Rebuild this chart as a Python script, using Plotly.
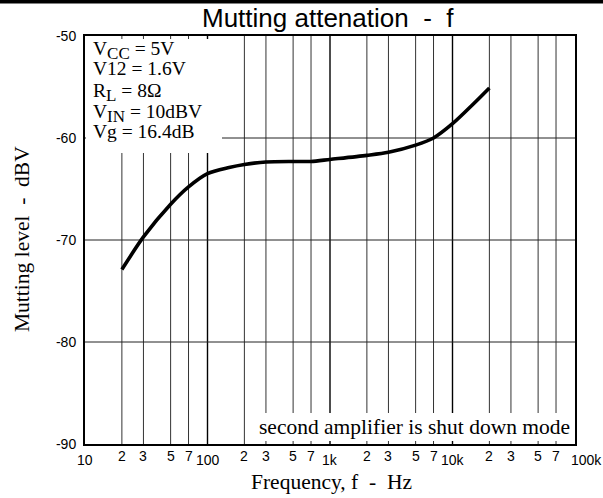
import math
import plotly.graph_objects as go

# ---- data ----
freq_hz = [20, 30, 50, 70, 100, 150, 200, 300, 500, 700, 1000, 2000, 3000, 5000, 7000, 10000, 15000, 20000]
level_dbv = [-72.9, -69.7, -66.5, -64.8, -63.5, -62.9, -62.6, -62.35, -62.3, -62.3, -62.1, -61.7, -61.4, -60.7, -60.0, -58.6, -56.6, -55.1]

y_tick_vals = [-50, -60, -70, -80, -90]
y_tick_text = ["-50", "-60", "-70", "-80", "-90"]
y_grid_vals = [-60, -70, -80]

x_minor_vals = [20, 30, 50, 70, 200, 300, 500, 700, 2000, 3000, 5000, 7000, 20000, 30000, 50000, 70000]
x_minor_text = ["2", "3", "5", "7", "2", "3", "5", "7", "2", "3", "5", "7", "2", "3", "5", "7"]
x_major_vals = [10, 100, 1000, 10000, 100000]
x_major_text = ["10", "100", "1k", "10k", "100k"]
x_grid_major = [100, 1000, 10000]

SUB = "<sub><span style='font-size:17px'>{}</span></sub>"
conditions = ["V" + SUB.format("CC") + " = 5V", "V12 = 1.6V", "R" + SUB.format("L") + " = 8\u03a9",
              "V" + SUB.format("IN") + " = 10dBV", "Vg = 16.4dB"]
note_text = "second amplifier is shut down mode"
title_text = "Mutting attenation  -  f"
x_title = "Frequency, f  -  Hz"
y_title = "Mutting level  -  dBV"

# ---- layout geometry (pixels) ----
W, H = 603, 498
L, R, T, B = 85, 28, 36, 54
PW, PH = W - L - R, H - T - B


def px(xp):
    return (xp - L) / PW


def py(yp):
    return (H - B - yp) / PH


SERIF = "Liberation Serif, Times New Roman, serif"
SANS = "Liberation Sans, Arial, sans-serif"

fig = go.Figure()
fig.add_trace(go.Scatter(
    x=freq_hz, y=level_dbv, mode="lines",
    line=dict(color="black", width=3.6, shape="spline", smoothing=0.8),
    hoverinfo="skip", showlegend=False,
))

shapes = []
# vertical grid lines
for v in x_minor_vals:
    shapes.append(dict(type="line", xref="x", yref="paper", x0=v, x1=v, y0=0, y1=1,
                       line=dict(color="#333333", width=1), layer="below"))
for v in x_grid_major:
    shapes.append(dict(type="line", xref="x", yref="paper", x0=v, x1=v, y0=0, y1=1,
                       line=dict(color="black", width=1.4), layer="below"))
# horizontal grid lines
for v in y_grid_vals:
    shapes.append(dict(type="line", xref="paper", yref="y", x0=0, x1=1, y0=v, y1=v,
                       line=dict(color="#222222", width=1), layer="below"))
# white boxes behind texts
shapes.append(dict(type="rect", xref="paper", yref="paper", x0=px(L + 1), x1=px(222),
                   y0=py(153), y1=py(39), fillcolor="white", line=dict(width=0), layer="below"))
shapes.append(dict(type="rect", xref="paper", yref="paper", x0=px(251), x1=px(W - R - 1),
                   y0=py(441), y1=py(413), fillcolor="white", line=dict(width=0), layer="below"))
# top black bar
shapes.append(dict(type="rect", xref="paper", yref="paper", x0=px(-5), x1=px(W + 5),
                   y0=py(3.5), y1=py(-5), fillcolor="black", line=dict(width=0), layer="above"))

annotations = []
# x tick labels (annotation x on a log axis is given in log10 units)
for v, t in zip(x_minor_vals, x_minor_text):
    annotations.append(dict(x=math.log10(v), xref="x", y=py(456), yref="paper", text=t, showarrow=False,
                            xanchor="center", yanchor="middle", font=dict(family=SANS, size=14, color="black")))
for i, (v, t) in enumerate(zip(x_major_vals, x_major_text)):
    shift = 11 if i == len(x_major_vals) - 1 else 0
    annotations.append(dict(x=math.log10(v), xref="x", y=py(460), yref="paper", text=t, showarrow=False,
                            xanchor="center", yanchor="middle", xshift=shift,
                            font=dict(family=SANS, size=14, color="black")))
# condition block
cond_mid = [50, 68.5, 93, 113.5, 131.5]
for t, ym in zip(conditions, cond_mid):
    annotations.append(dict(x=px(90.5), xref="paper", y=py(ym), yref="paper", text=t, showarrow=False,
                            xanchor="left", yanchor="middle", font=dict(family=SERIF, size=19.5, color="black")))
# note
annotations.append(dict(x=px(257), xref="paper", y=py(427), yref="paper", text=note_text, showarrow=False,
                        xanchor="left", yanchor="middle", font=dict(family=SERIF, size=21.5, color="black")))
# title
annotations.append(dict(x=px(328), xref="paper", y=py(18), yref="paper", text=title_text, showarrow=False,
                        xanchor="center", yanchor="middle", font=dict(family=SANS, size=26, color="black")))
# axis titles
annotations.append(dict(x=px(331), xref="paper", y=py(482), yref="paper", text=x_title, showarrow=False,
                        xanchor="center", yanchor="middle", font=dict(family=SERIF, size=21.5, color="black")))
annotations.append(dict(x=px(22), xref="paper", y=py(239), yref="paper", text=y_title, showarrow=False,
                        textangle=-90, xanchor="center", yanchor="middle",
                        font=dict(family=SERIF, size=21.5, color="black")))

fig.update_layout(
    width=W, height=H,
    margin=dict(l=L, r=R, t=T, b=B, pad=0),
    paper_bgcolor="white", plot_bgcolor="white",
    shapes=shapes, annotations=annotations,
    showlegend=False,
    xaxis=dict(type="log", range=[1, 5], showgrid=False, zeroline=False,
               showline=True, mirror=True, linecolor="black", linewidth=2,
               ticks="", showticklabels=False, fixedrange=True),
    yaxis=dict(range=[-90, -50], showgrid=False, zeroline=False,
               showline=True, mirror=True, linecolor="black", linewidth=2,
               ticks="", tickvals=y_tick_vals, ticktext=y_tick_text, ticklabelstandoff=4,
               tickfont=dict(family=SANS, size=14, color="black"), fixedrange=True),
)

fig.write_html(
    "out.html",
    config={"displayModeBar": False},
    post_script="document.body.style.margin='0';document.body.style.padding='0';document.body.style.overflow='hidden';",
)
